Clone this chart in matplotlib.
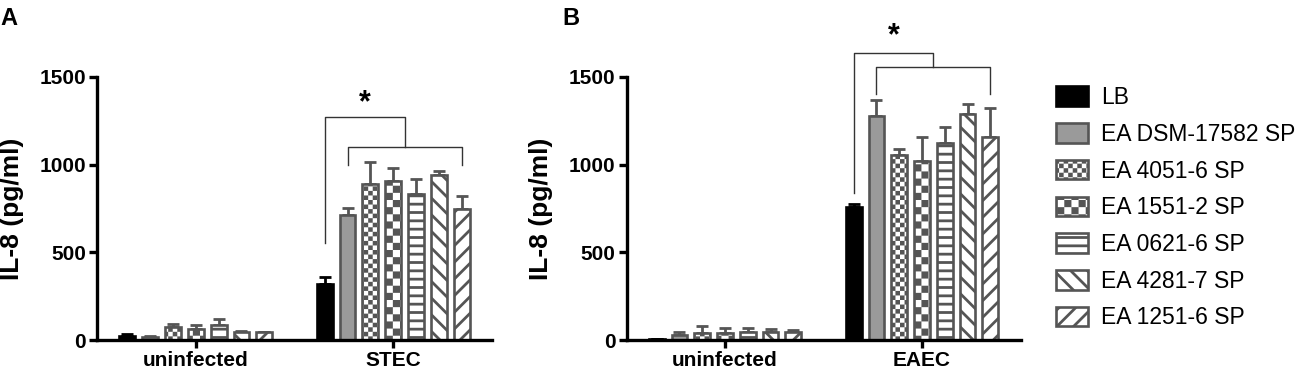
import warnings
import numpy as np
import matplotlib
matplotlib.use("Agg")
import matplotlib.pyplot as plt
from matplotlib import hatch as mhatch
from matplotlib.path import Path

warnings.filterwarnings("ignore")

# ---- data ----
treatments = ["LB", "EA DSM-17582 SP", "EA 4051-6 SP", "EA 1551-2 SP",
              "EA 0621-6 SP", "EA 4281-7 SP", "EA 1251-6 SP"]

groups_a = ["uninfected", "STEC"]
uninf_a_mean = [25, 19, 72, 63, 85, 47, 44]
uninf_a_err = [11, 3, 21, 21, 33, 3, 3]
stec_mean = [319, 713, 888, 906, 832, 941, 747]
stec_err = [42, 41, 125, 76, 84, 22, 76]

groups_b = ["uninfected", "EAEC"]
uninf_b_mean = [5, 26, 42, 38, 48, 48, 48]
uninf_b_err = [2, 21, 38, 32, 20, 12, 11]
eaec_mean = [760, 1279, 1053, 1022, 1125, 1288, 1157]
eaec_err = [15, 89, 34, 134, 87, 57, 169]

# significance brackets: (upper level, left leg bottom, lower level, lower legs bottom, star y)
bracket_a = (1273, 553, 1102, 998, 1350)
bracket_b = (1638, 840, 1558, 1402, 1730)

# ---- style ----
HATCH_LW = 2.0  # points
plt.rcParams["font.family"] = ["Liberation Sans", "DejaVu Sans"]
plt.rcParams["hatch.linewidth"] = HATCH_LW
DPI = 100
lw_unit = HATCH_LW / 72.0  # hatch unit cell = 72 pt


class CheckerHatch(mhatch.HatchPatternBase):
    """filled checkerboard: 'c' small cells, 'k' large cells"""
    def __init__(self, hatch, density):
        if "c" in hatch:
            self.n = 22
        elif "k" in hatch:
            self.n = 14
        else:
            self.n = 0
        self.num_vertices = (self.n * self.n // 2) * 5

    def set_vertices_and_codes(self, vertices, codes):
        n = self.n
        cell = 1.0 / n
        s = max(cell - lw_unit, 0.004)
        off = (cell - s) / 2
        sq = np.array([[0, 0], [s, 0], [s, s], [0, s], [0, 0]]) + off
        sq_codes = [Path.MOVETO, Path.LINETO, Path.LINETO, Path.LINETO, Path.CLOSEPOLY]
        k = 0
        for i in range(n):
            for j in range(n):
                if (i + j) % 2 == 0:
                    vertices[k * 5:(k + 1) * 5] = sq + [i * cell, j * cell]
                    codes[k * 5:(k + 1) * 5] = sq_codes
                    k += 1


mhatch._hatch_types.append(CheckerHatch)

edge = "#555555"
faces = ["black", "#9a9a9a", "white", "white", "white", "white", "white"]
edges = ["black", edge, edge, edge, edge, edge, edge]
hatches = [None, None, "c", "k", "--", "\\\\", "//"]

pitch = 0.1157
width = 0.08
offsets = (np.arange(7) - 3) * pitch

fig = plt.figure(figsize=(12.99, 3.75), dpi=DPI)
ax_a = fig.add_axes([97 / 1299, 1 - 340 / 375, 395 / 1299, 263 / 375])
ax_b = fig.add_axes([626.5 / 1299, 1 - 340 / 375, 394 / 1299, 263 / 375])


def draw_panel(ax, groups, means, errs, bracket):
    handles = []
    for i in range(7):
        xs = np.arange(len(groups)) + offsets[i]
        ys = [m[i] for m in means]
        es = [e[i] for e in errs]
        ax.errorbar(xs, ys, yerr=[np.zeros(len(ys)), es], fmt="none",
                    ecolor=edges[i], elinewidth=2.0, capsize=4, capthick=2.0,
                    zorder=1)
        b = ax.bar(xs, ys, width=width, color=faces[i], edgecolor=edges[i],
                   linewidth=1.9, hatch=hatches[i], zorder=2,
                   label=treatments[i])
        handles.append(b)

    ax.set_xlim(-0.5, 1.5)
    ax.set_ylim(0, 1500)
    ax.set_yticks([0, 500, 1000, 1500])
    ax.set_xticks(range(len(groups)))
    ax.set_xticklabels(groups, fontweight="bold")
    for lab in ax.get_yticklabels():
        lab.set_fontweight("bold")
    ax.tick_params(axis="both", width=2.4, length=6, labelsize=15, pad=2)
    for sp in ["top", "right"]:
        ax.spines[sp].set_visible(False)
    for sp in ["left", "bottom"]:
        ax.spines[sp].set_linewidth(2.4)
    ax.set_ylabel("IL-8 (pg/ml)", fontsize=19, fontweight="bold", labelpad=11)

    # brackets over the infected group
    up, left_bot, low, low_bot, star_y = bracket
    g = 1
    x_lb = g + offsets[0]
    x_l1 = g + offsets[1]
    x_l2 = g + offsets[6]
    x_mid = (x_l1 + x_l2) / 2
    kw = dict(color="#333333", lw=1.0, clip_on=False)
    ax.plot([x_lb, x_lb, x_mid, x_mid], [left_bot, up, up, low], **kw)
    ax.plot([x_l1, x_l1, x_l2, x_l2], [low_bot, low, low, low_bot], **kw)
    ax.text((x_lb + x_mid) / 2, star_y, "*", fontsize=22, fontweight="bold",
            ha="center", va="center", clip_on=False)
    return handles


handles = draw_panel(ax_a, groups_a, [uninf_a_mean, stec_mean],
                     [uninf_a_err, stec_err], bracket_a)
draw_panel(ax_b, groups_b, [uninf_b_mean, eaec_mean],
           [uninf_b_err, eaec_err], bracket_b)

fig.text(0 / 1299, 1 - 7 / 375, "A", fontsize=17, fontweight="bold", va="top", ha="left")
fig.text(562 / 1299, 1 - 7 / 375, "B", fontsize=17, fontweight="bold", va="top", ha="left")

fig.legend(handles, treatments, loc="upper left",
           bbox_to_anchor=(1056 / 1299, 1 - 86 / 375), frameon=False,
           fontsize=16.5, handlelength=1.4, handleheight=0.92,
           handletextpad=0.58, labelspacing=0.6, borderpad=0, borderaxespad=0)

fig.savefig("out.png", dpi=DPI)
